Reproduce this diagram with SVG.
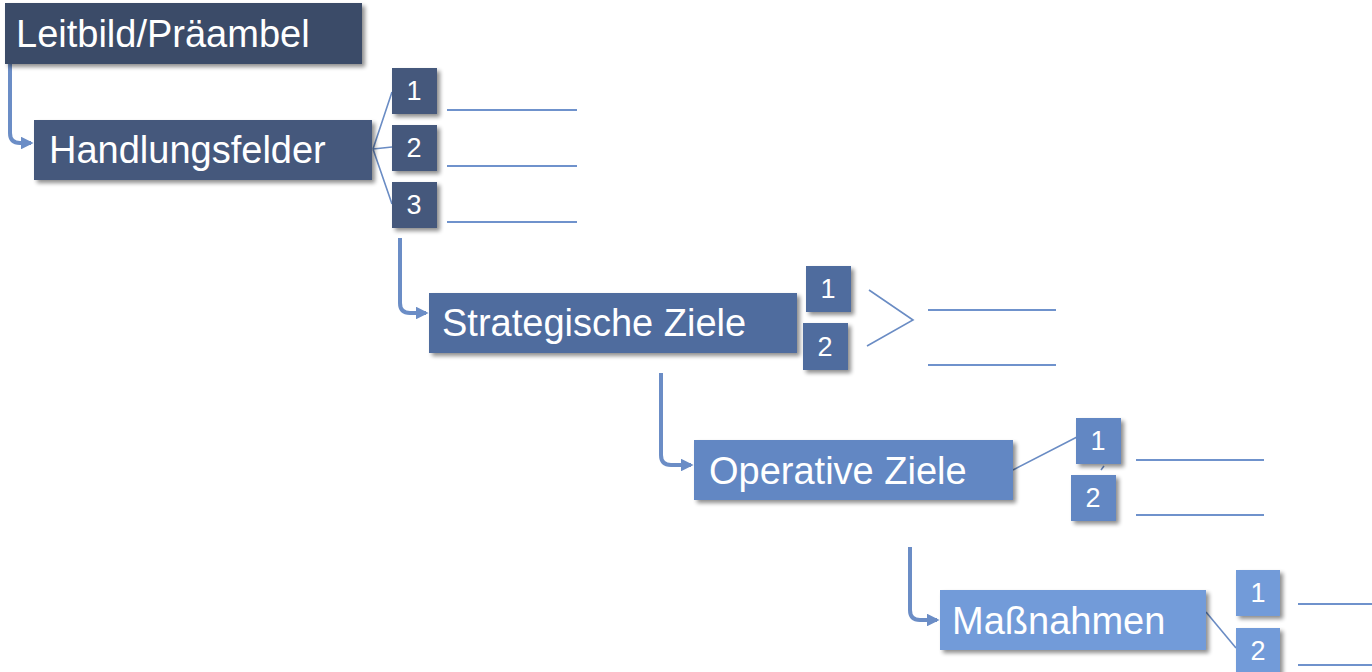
<svg xmlns="http://www.w3.org/2000/svg" width="1372" height="672" viewBox="0 0 1372 672">
  <defs>
    <filter id="shadow" x="-10%" y="-20%" width="130%" height="150%">
      <feGaussianBlur in="SourceAlpha" stdDeviation="2"/>
      <feOffset dx="3" dy="3" result="b"/>
      <feComponentTransfer><feFuncA type="linear" slope="0.45"/></feComponentTransfer>
      <feMerge><feMergeNode/><feMergeNode in="SourceGraphic"/></feMerge>
    </filter>
    <marker id="head" viewBox="0 0 10 10" refX="8" refY="5" markerWidth="3.2" markerHeight="3.2" orient="auto" markerUnits="strokeWidth">
      <path d="M0,0 L10,5 L0,10 z" fill="#6b8dc6"/>
    </marker>
  </defs>
  <style>
    .lvl0 { fill: #3b4b67; }
    .lvl1 { fill: #44597c; }
    .lvl2 { fill: #4f6c9e; }
    .lvl3 { fill: #6287c3; }
    .lvl4 { fill: #729bd9; }
    .box { filter: url(#shadow); }
    .title { font-family: "Liberation Sans", Arial, sans-serif; font-size: 38px; fill: #ffffff; }
    .num { font-family: "Liberation Sans", Arial, sans-serif; font-size: 27px; fill: #ffffff; text-anchor: middle; }
    .flow { fill: none; stroke: #6b8dc6; stroke-width: 4; marker-end: url(#head); }
    .link { fill: none; stroke: #6a8cc4; stroke-width: 1.6; }
    .rule { fill: none; stroke: #6f92cc; stroke-width: 1.8; }
  </style>
  <rect width="1372" height="672" fill="#ffffff"/>

  <!-- connectors -->
  <g id="connectors">
    <path class="flow" d="M10,64 V133 Q10,143 20,143 H31"/>
    <path class="flow" d="M400,238 V303 Q400,313 410,313 H426"/>
    <path class="flow" d="M661,373 V455 Q661,465 671,465 H691"/>
    <path class="flow" d="M910,547 V610 Q910,620 920,620 H937"/>
    <path class="link" d="M373,149 L392,92 M373,149 L392,147 M373,149 L392,204"/>
    <path class="link" d="M869,290 L913,320 L867,346"/>
    <path class="link" d="M1013,470 L1077,437 M1101,470 L1104,466"/>
    <path class="link" d="M1206,612 L1236,648"/>
    <path class="rule" d="M447,110 H577 M447,166 H577 M447,222 H577"/>
    <path class="rule" d="M928,310 H1056 M928,365 H1056"/>
    <path class="rule" d="M1136,460 H1264 M1136,515 H1264"/>
    <path class="rule" d="M1298,604 H1372 M1298,665 H1372"/>
  </g>

  <g id="leitbild">
    <rect class="box lvl0" x="5" y="3" width="357" height="61"/>
    <text class="title" x="16" y="47">Leitbild/Präambel</text>
  </g>

  <g id="handlungsfelder">
    <rect class="box lvl1" x="34" y="120" width="338" height="60"/>
    <text class="title" x="49" y="163">Handlungsfelder</text>
  </g>
  <g id="hf-1">
    <rect class="box lvl1" x="392" y="68" width="45" height="46"/>
    <text class="num" x="414" y="100">1</text>
  </g>
  <g id="hf-2">
    <rect class="box lvl1" x="392" y="125" width="45" height="46"/>
    <text class="num" x="414" y="157">2</text>
  </g>
  <g id="hf-3">
    <rect class="box lvl1" x="392" y="182" width="45" height="46"/>
    <text class="num" x="414" y="214">3</text>
  </g>

  <g id="strategische-ziele">
    <rect class="box lvl2" x="429" y="293" width="368" height="60"/>
    <text class="title" x="442" y="336">Strategische Ziele</text>
  </g>
  <g id="sz-1">
    <rect class="box lvl2" x="806" y="266" width="45" height="46"/>
    <text class="num" x="828" y="298">1</text>
  </g>
  <g id="sz-2">
    <rect class="box lvl2" x="803" y="323" width="45" height="47"/>
    <text class="num" x="825" y="356">2</text>
  </g>

  <g id="operative-ziele">
    <rect class="box lvl3" x="694" y="440" width="319" height="60"/>
    <text class="title" x="709" y="484">Operative Ziele</text>
  </g>
  <g id="oz-1">
    <rect class="box lvl3" x="1076" y="418" width="45" height="46"/>
    <text class="num" x="1098" y="450">1</text>
  </g>
  <g id="oz-2">
    <rect class="box lvl3" x="1071" y="475" width="45" height="46"/>
    <text class="num" x="1093" y="507">2</text>
  </g>

  <g id="massnahmen">
    <rect class="box lvl4" x="940" y="590" width="266" height="60"/>
    <text class="title" x="952" y="634">Maßnahmen</text>
  </g>
  <g id="mn-1">
    <rect class="box lvl4" x="1236" y="570" width="44" height="46"/>
    <text class="num" x="1258" y="602">1</text>
  </g>
  <g id="mn-2">
    <rect class="box lvl4" x="1236" y="628" width="44" height="46"/>
    <text class="num" x="1258" y="660">2</text>
  </g>
</svg>
